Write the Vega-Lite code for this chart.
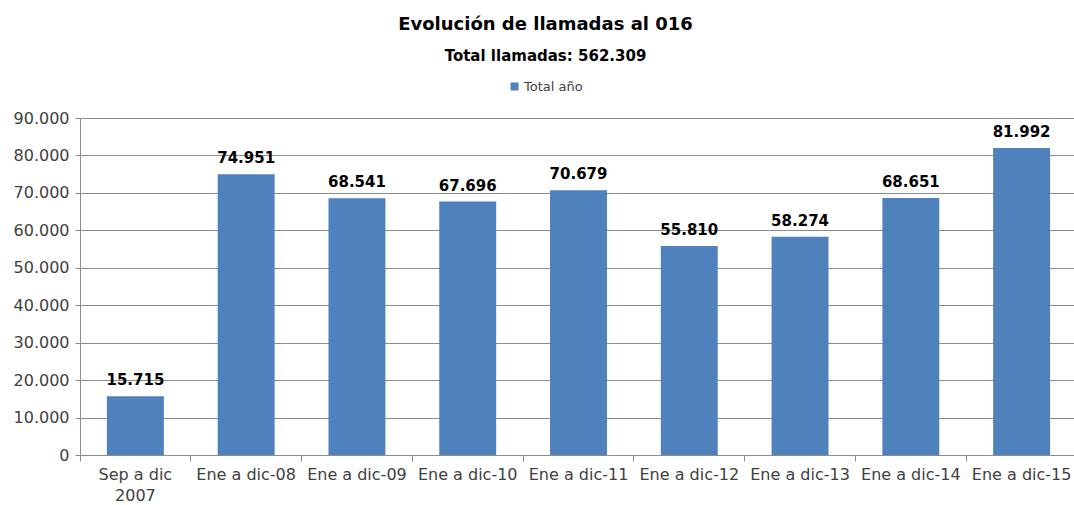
{
  "$schema": "https://vega.github.io/schema/vega-lite/v6.json",
  "width": 997,
  "height": 337,
  "autosize": "none",
  "padding": {"left": 80, "top": 118, "right": 0, "bottom": 50},
  "background": "white",
  "title": {
    "text": "Evolución de llamadas al 016",
    "subtitle": "Total llamadas: 562.309",
    "anchor": "middle",
    "frame": "group",
    "dx": -33,
    "offset": 16,
    "font": "DejaVu Sans",
    "fontSize": 18,
    "fontWeight": "bold",
    "color": "#000000",
    "subtitleFont": "DejaVu Sans",
    "subtitleFontSize": 15,
    "subtitleFontWeight": "bold",
    "subtitleColor": "#000000",
    "subtitlePadding": 15
  },
  "config": {
    "view": {"stroke": null},
    "locale": {"number": {"decimal": ",", "thousands": ".", "grouping": [3], "currency": ["", " €"]}},
    "font": "DejaVu Sans"
  },
  "data": {
    "values": [
      {"periodo": "Sep a dic 2007", "llamadas": 15715},
      {"periodo": "Ene a dic-08", "llamadas": 74951},
      {"periodo": "Ene a dic-09", "llamadas": 68541},
      {"periodo": "Ene a dic-10", "llamadas": 67696},
      {"periodo": "Ene a dic-11", "llamadas": 70679},
      {"periodo": "Ene a dic-12", "llamadas": 55810},
      {"periodo": "Ene a dic-13", "llamadas": 58274},
      {"periodo": "Ene a dic-14", "llamadas": 68651},
      {"periodo": "Ene a dic-15", "llamadas": 81992}
    ]
  },
  "encoding": {
    "x": {
      "field": "periodo",
      "type": "nominal",
      "sort": null,
      "scale": {"paddingInner": 0.486, "paddingOuter": 0.243},
      "axis": {
        "title": null,
        "labelAngle": 0,
        "bandPosition": -0.472,
        "labelFont": "DejaVu Sans",
        "labelExpr": "datum.value == 'Sep a dic 2007' ? ['Sep a dic', '2007'] : datum.value",
        "labelFontSize": 16,
        "labelColor": "#404040",
        "labelPadding": 5,
        "labelLineHeight": 21,
        "labelBaseline": "top",
        "labelOverlap": false,
        "labelBound": false,
        "domainColor": "#8c8c8c",
        "tickColor": "#8c8c8c",
        "tickSize": 6,
        "grid": false
      }
    },
    "y": {
      "field": "llamadas",
      "type": "quantitative",
      "scale": {"domain": [0, 90000], "nice": false},
      "axis": {
        "title": null,
        "values": [0, 10000, 20000, 30000, 40000, 50000, 60000, 70000, 80000, 90000],
        "format": ",d",
        "labelFont": "DejaVu Sans",
        "labelFontSize": 16,
        "labelColor": "#404040",
        "labelPadding": 6,
        "domainColor": "#8c8c8c",
        "tickColor": "#8c8c8c",
        "tickSize": 5,
        "gridColor": "#8c8c8c",
        "gridWidth": 1
      }
    }
  },
  "layer": [
    {
      "mark": {"type": "bar"},
      "encoding": {
        "color": {
          "datum": "Total año",
          "scale": {"range": ["#4F81BD"]},
          "legend": {
            "title": null,
            "orient": "none",
            "legendX": 428,
            "legendY": -38,
            "symbolType": "square",
            "symbolSize": 64,
            "symbolStrokeWidth": 0,
            "labelFont": "DejaVu Sans",
            "labelFontSize": 13,
            "labelColor": "#404040",
            "labelOffset": 3
          }
        }
      }
    },
    {
      "mark": {
        "type": "text",
        "baseline": "bottom",
        "dy": -8,
        "font": "DejaVu Sans",
        "fontSize": 15,
        "fontWeight": "bold",
        "color": "#000000"
      },
      "encoding": {
        "text": {"field": "llamadas", "type": "quantitative", "format": ",d"}
      }
    }
  ]
}
